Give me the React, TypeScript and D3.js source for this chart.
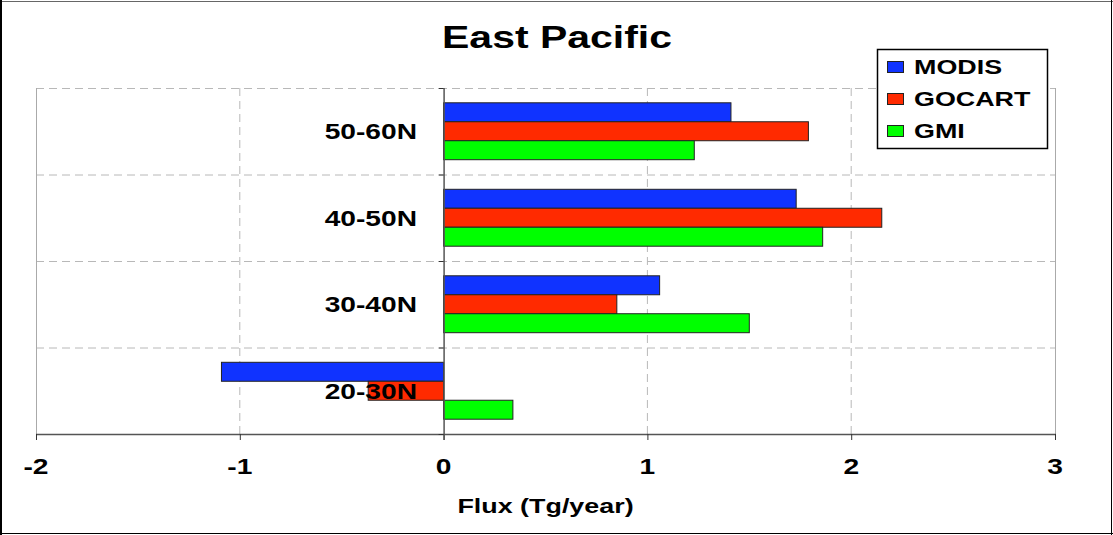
import React from "react";
import * as d3 from "d3";

const categories = ["50-60N", "40-50N", "30-40N", "20-30N"];
const seriesNames = ["MODIS", "GOCART", "GMI"];
const modis = [1.41, 1.73, 1.06, -1.09];
const gocart = [1.79, 2.15, 0.85, -0.37];
const gmi = [1.23, 1.86, 1.5, 0.34];
const xTicks = [-2, -1, 0, 1, 2, 3];

const colors = ["#1033ff", "#ff2a00", "#00ff00"];
const FONT = "'Liberation Sans', Arial, sans-serif";
const SX = 1.28; // the picture is stretched sideways

const W = 1113;
const H = 535;
const plot = { left: 36, right: 1055, top: 88, bottom: 434 };

const StretchText = ({ x, y, size, anchor = "start", children }: any) => (
  <text
    transform={`translate(${x},${y}) scale(${SX},1)`}
    fontFamily={FONT}
    fontWeight="bold"
    fontSize={size}
    textAnchor={anchor}
    fill="#000"
  >
    {children}
  </text>
);

const App = () => {
  const values = [modis, gocart, gmi];

  const x = d3.scaleLinear().domain([-2, 3]).range([plot.left, plot.right]);
  const y = d3
    .scaleBand<string>()
    .domain(categories)
    .range([plot.top, plot.bottom]);
  const ySub = d3
    .scaleBand<string>()
    .domain(seriesNames)
    .range([0, y.bandwidth()])
    .paddingInner(0)
    .paddingOuter(0.78);

  const x0 = x(0);
  const boundaries = categories.map((c) => y(c) as number).concat(plot.bottom);

  return (
    <svg
      width={W}
      height={H}
      style={{ position: "absolute", left: 0, top: 0, background: "#fff" }}
    >
      <rect x={0} y={0} width={W} height={H} fill="#fff" />

      {/* grid */}
      {xTicks
        .filter((t) => t !== 0 && t !== -2 && t !== 3)
        .map((t) => (
          <line
            key={"gx" + t}
            x1={x(t)}
            x2={x(t)}
            y1={plot.top}
            y2={plot.bottom}
            stroke="#b8b8b8"
            strokeDasharray="8,5"
          />
        ))}
      {boundaries.slice(0, -1).map((b, i) => (
        <line
          key={"gy" + i}
          x1={plot.left}
          x2={plot.right}
          y1={b + 0.5}
          y2={b + 0.5}
          stroke="#b8b8b8"
          strokeDasharray="8,5"
        />
      ))}
      <line x1={plot.left + 0.5} x2={plot.left + 0.5} y1={plot.top} y2={plot.bottom} stroke="#aaa" />
      <line x1={plot.right + 0.5} x2={plot.right + 0.5} y1={plot.top} y2={plot.bottom} stroke="#aaa" />

      {/* bars */}
      {values.map((vals, si) =>
        vals.map((v, ci) => {
          const yy = (y(categories[ci]) as number) + (ySub(seriesNames[si]) as number);
          return (
            <rect
              key={si + "-" + ci}
              x={Math.min(x(v), x0)}
              y={yy}
              width={Math.abs(x(v) - x0)}
              height={ySub.bandwidth()}
              fill={colors[si]}
              stroke="#222"
              strokeWidth={1}
            />
          );
        })
      )}

      {/* axes */}
      <line x1={plot.left} x2={plot.right + 1} y1={plot.bottom + 0.5} y2={plot.bottom + 0.5} stroke="#555" strokeWidth={1.5} />
      {xTicks.map((t) => (
        <line
          key={"tx" + t}
          x1={x(t) + 0.5}
          x2={x(t) + 0.5}
          y1={plot.bottom}
          y2={plot.bottom + 6}
          stroke="#333"
        />
      ))}
      <line x1={x0 + 0.5} x2={x0 + 0.5} y1={plot.top} y2={plot.bottom + 6} stroke="#555" strokeWidth={1.5} />
      {boundaries.map((b, i) => (
        <line key={"ty" + i} x1={x0 - 5} x2={x0} y1={b + 0.5} y2={b + 0.5} stroke="#333" />
      ))}

      {/* category labels */}
      {categories.map((c) => (
        <StretchText key={c} x={417} y={(y(c) as number) + y.bandwidth() / 2 + 8} size={22} anchor="end">
          {c}
        </StretchText>
      ))}

      {/* tick labels */}
      {xTicks.map((t) => (
        <StretchText key={"l" + t} x={x(t)} y={474} size={22} anchor="middle">
          {t}
        </StretchText>
      ))}

      <StretchText x={(plot.left + plot.right) / 2} y={513} size={21} anchor="middle">
        Flux (Tg/year)
      </StretchText>

      <StretchText x={557} y={48} size={32} anchor="middle">
        East Pacific
      </StretchText>

      {/* legend */}
      <rect x={877.5} y={49.5} width={170} height={99} fill="#fff" stroke="#000" strokeWidth={1.5} />
      {seriesNames.map((s, i) => {
        const cy = 67 + i * 32;
        return (
          <g key={s}>
            <rect x={887.5} y={cy - 5.5} width={16} height={11} fill={colors[i]} stroke="#222" />
            <StretchText x={914} y={cy + 7} size={21}>
              {s}
            </StretchText>
          </g>
        );
      })}

      {/* outer frame */}
      <line x1={0} x2={W} y1={1.5} y2={1.5} stroke="#666" />
      <line x1={1} x2={1} y1={0} y2={H} stroke="#000" strokeWidth={2} />
      <line x1={1111.5} x2={1111.5} y1={0} y2={H} stroke="#000" />
      <line x1={0} x2={W} y1={533.5} y2={533.5} stroke="#000" />
    </svg>
  );
};

export default App;
